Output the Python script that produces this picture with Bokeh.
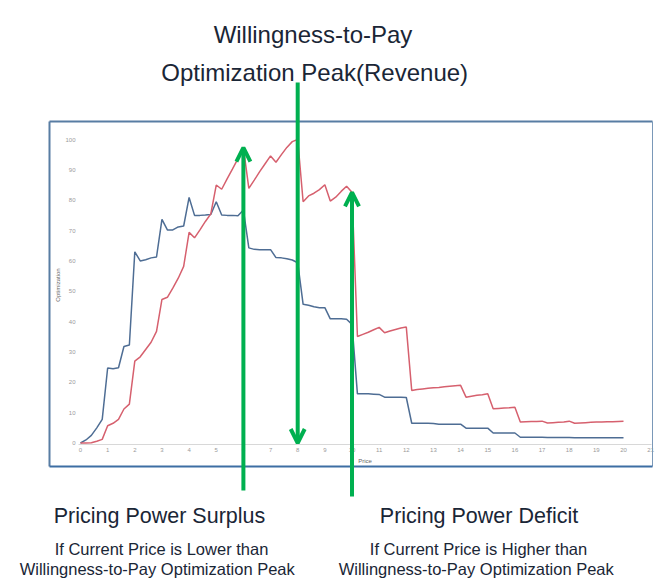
from bokeh.plotting import figure
from bokeh.models import Range1d, Label, Arrow, OpenHead, FixedTicker
from bokeh.embed import file_html
from bokeh.resources import INLINE

# ---------------- data ----------------
price = [0.0, 0.2, 0.4, 0.6, 0.8, 1.0, 1.2, 1.4, 1.6, 1.8,
         2.0, 2.2, 2.4, 2.6, 2.8, 3.0, 3.2, 3.4, 3.6, 3.8,
         4.0, 4.2, 4.4, 4.6, 4.8, 5.0, 5.2, 5.4, 5.6, 5.8,
         6.0, 6.2, 6.4, 6.6, 6.8, 7.0, 7.2, 7.4, 7.6, 7.8,
         8.0, 8.2, 8.4, 8.6, 8.8, 9.0, 9.2, 9.4, 9.6, 9.8,
         10.0, 10.2, 10.4, 10.6, 10.8, 11.0, 11.2, 11.4, 11.6, 11.8,
         12.0, 12.2, 12.4, 12.6, 12.8, 13.0, 13.2, 13.4, 13.6, 13.8,
         14.0, 14.2, 14.4, 14.6, 14.8, 15.0, 15.2, 15.4, 15.6, 15.8,
         16.0, 16.2, 16.4, 16.6, 16.8, 17.0, 17.2, 17.4, 17.6, 17.8,
         18.0, 18.2, 18.4, 18.6, 18.8, 19.0, 19.2, 19.4, 19.6, 19.8,
         20.0]

volume_optimization = [0.0, 1.0, 2.5, 5.0, 7.8, 24.7, 24.5, 24.8, 31.8, 32.3,
                       63.0, 60.0, 60.4, 61.0, 61.3, 73.7, 70.2, 70.2, 71.2, 71.5,
                       80.9, 75.0, 75.0, 75.1, 75.3, 79.5, 75.1, 75.0, 75.0, 74.9,
                       76.8, 64.3, 63.8, 63.7, 63.7, 63.7, 61.1, 61.0, 60.7, 60.3,
                       59.4, 45.7, 45.4, 44.9, 44.6, 44.6, 40.9, 40.9, 40.9, 40.8,
                       39.1, 16.2, 16.2, 16.2, 16.1, 16.0, 15.1, 15.1, 15.1, 15.1,
                       15.0, 6.5, 6.5, 6.5, 6.5, 6.4, 6.2, 6.2, 6.2, 6.2,
                       6.2, 4.9, 4.9, 4.9, 4.9, 4.9, 3.3, 3.3, 3.3, 3.3,
                       3.3, 1.9, 1.9, 1.9, 1.9, 1.9, 1.8, 1.8, 1.8, 1.8,
                       1.8, 1.7, 1.7, 1.7, 1.7, 1.7, 1.7, 1.7, 1.7, 1.7,
                       1.7]

revenue_optimization = [0.0, 0.0, 0.1, 0.6, 1.2, 5.7, 6.5, 7.8, 11.2, 12.8,
                        27.0, 28.4, 30.8, 33.2, 36.8, 47.3, 48.0, 51.0, 54.3, 58.2,
                        69.4, 67.6, 70.2, 73.0, 75.5, 85.0, 83.6, 87.0, 90.3, 93.7,
                        97.3, 83.9, 86.6, 89.4, 92.0, 94.6, 92.5, 95.0, 97.4, 99.3,
                        100.0, 79.5, 81.4, 82.3, 83.5, 85.1, 79.7, 81.0, 82.9, 84.6,
                        82.6, 35.1, 35.8, 36.5, 37.3, 38.1, 36.3, 36.9, 37.4, 37.9,
                        38.2, 17.3, 17.6, 17.8, 18.0, 18.2, 18.3, 18.5, 18.7, 18.9,
                        19.0, 15.1, 15.4, 15.7, 15.9, 16.2, 11.3, 11.4, 11.5, 11.6,
                        11.8, 6.9, 7.0, 7.1, 7.1, 7.2, 6.6, 6.7, 6.8, 6.9,
                        7.2, 6.5, 6.6, 6.7, 6.8, 6.9, 6.9, 7.0, 7.0, 7.1,
                        7.2]

x_ticks = [0, 1, 2, 3, 4, 5, 6, 7, 8, 9, 10, 11, 12, 13, 14, 15, 16, 17, 18, 19, 20, 21]
y_ticks = [0, 10, 20, 30, 40, 50, 60, 70, 80, 90, 100]

# prices the green arrows point at: surplus example and deficit example
surplus_price = 6.0
deficit_price = 10.0

x_axis_title = "Price"
y_axis_title = "Optimization"
title_lines = ["Willingness-to-Pay", "Optimization  Peak(Revenue)"]
left_texts = ["Pricing Power Surplus", "If Current Price is Lower than",
              "Willingness-to-Pay Optimization  Peak"]
right_texts = ["Pricing Power Deficit", "If Current Price is Higher than",
               "Willingness-to-Pay Optimization  Peak"]

# ---------------- layout / styles ----------------
W, H = 656, 581          # canvas
OFF = 0                  # page offset of the canvas
SX, SY = 27.15, 3.035    # px per data unit
PAGE_X0, PAGE_Y0 = 80.0, 442.5   # page position of (0, 0)
X0 = -(PAGE_X0 - OFF) / SX
X1 = X0 + W / SX
Y1 = (PAGE_Y0 - OFF) / SY
Y0 = Y1 - H / SY

BLUE = "#4e6d94"
RED = "#d6606e"
GREEN = "#00b050"
TEXT = "#1a2636"
FONT = "Liberation Sans"


def dx(page_x):
    return X0 + (page_x - OFF) / SX


def dy(page_y):
    return Y1 - (page_y - OFF) / SY


p = figure(width=W, height=H, output_backend="svg", toolbar_location=None,
           x_range=Range1d(X0, X1), y_range=Range1d(Y0, Y1), min_border=0)
p.outline_line_color = None
p.background_fill_color = "white"
p.border_fill_color = "white"
p.xgrid.grid_line_color = None
p.ygrid.grid_line_color = None

p.xaxis.fixed_location = dy(444)
p.yaxis.fixed_location = dx(78)
p.xaxis.bounds = (dx(78), dx(651))
p.yaxis.bounds = (dy(444), dy(125))
p.xaxis.ticker = FixedTicker(ticks=x_ticks)
p.yaxis.ticker = FixedTicker(ticks=y_ticks)
p.xaxis.axis_label = x_axis_title
p.yaxis.axis_label = y_axis_title
for ax in (p.xaxis, p.yaxis):
    ax.major_tick_line_color = None
    ax.minor_tick_line_color = None
    ax.major_tick_out = 0
    ax.major_tick_in = 0
    ax.minor_tick_out = 0
    ax.minor_tick_in = 0
    ax.major_label_text_font_size = "6px"
    ax.major_label_text_color = "#9a9a9a"
    ax.major_label_text_font = FONT
    ax.axis_label_text_font_size = "6px"
    ax.axis_label_text_color = "#666666"
    ax.axis_label_text_font = FONT
    ax.axis_label_text_font_style = "normal"
    ax.major_label_standoff = 3
p.xaxis.axis_label_standoff = 3
p.yaxis.axis_label_standoff = 1
p.xaxis.axis_line_color = "#d8d8d8"
p.yaxis.axis_line_color = None

p.line(price, volume_optimization, line_color=BLUE, line_width=1.5)
p.line(price, revenue_optimization, line_color=RED, line_width=1.5)

# box around the chart
box_segments = [
    (dx(49), dy(121), dx(652), dy(121), "#587da3", 2),
    (dx(49), dy(121), dx(49), dy(466), "#587da3", 2),
    (dx(652), dy(121), dx(652), dy(466), "#7a98b8", 1),
    (dx(49), dy(466), dx(652), dy(466), "#3d6ea3", 2.2),
]
for xs, ys, xe, ye, col, lw in box_segments:
    p.add_layout(Arrow(end=None, x_start=xs, y_start=ys, x_end=xe, y_end=ye,
                       line_color=col, line_width=lw))

# green arrows
peak_idx = revenue_optimization.index(max(revenue_optimization))
peak_price = price[peak_idx]
surplus_y = revenue_optimization[price.index(surplus_price)]
deficit_y = revenue_optimization[price.index(deficit_price)]


def head():
    return OpenHead(size=14, line_color=GREEN, line_width=4)


p.add_layout(Arrow(end=head(), x_start=surplus_price, y_start=dy(490),
                   x_end=surplus_price, y_end=surplus_y,
                   line_color=GREEN, line_width=4))
p.add_layout(Arrow(end=head(), x_start=peak_price, y_start=dy(82),
                   x_end=peak_price, y_end=0.0,
                   line_color=GREEN, line_width=4))
p.add_layout(Arrow(end=head(), x_start=deficit_price, y_start=dy(496),
                   x_end=deficit_price, y_end=deficit_y,
                   line_color=GREEN, line_width=4))


def add_text(txt, px, py, size):
    p.add_layout(Label(x=dx(px), y=dy(py), text=txt, text_align="center",
                       text_baseline="alphabetic", text_font=FONT,
                       text_font_size=size, text_color=TEXT))


add_text(title_lines[0], 312.5, 33.5, "24px")
add_text(title_lines[1], 317.5, 71.5, "24px")
add_text(left_texts[0], 159, 515, "21.5px")
add_text(left_texts[1], 161, 548, "16.5px")
add_text(left_texts[2], 159, 568, "16.5px")
add_text(right_texts[0], 478.5, 515, "21.5px")
add_text(right_texts[1], 478, 548, "16.5px")
add_text(right_texts[2], 478, 568, "16.5px")

open("out.html", "w").write(file_html(p, INLINE))
